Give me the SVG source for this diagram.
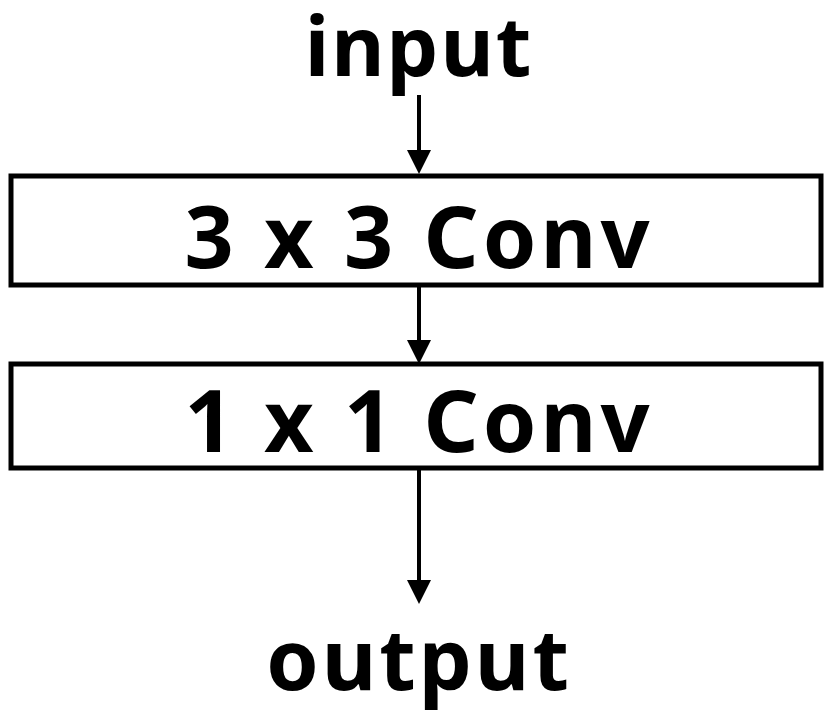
<svg xmlns="http://www.w3.org/2000/svg" width="830" height="719" viewBox="0 0 830 719">
<style>
.t{font-family:"Noto Sans","Noto Sans CJK SC",sans-serif;font-weight:bold;text-anchor:middle;fill:#000}
.b{fill:#fff;stroke:#000;stroke-width:5}
.c{stroke:#000;stroke-width:4;fill:none;marker-end:url(#a)}
</style>
<defs><marker id="a" markerWidth="6" markerHeight="6" refX="5" refY="3" orient="auto" markerUnits="strokeWidth"><path d="M0,0 L6,3 L0,6 z" fill="#000"/></marker></defs>
<rect width="830" height="719" fill="#fff"/>
<g id="connectors">
<line class="c" x1="419" y1="95" x2="419" y2="170"/>
<line class="c" x1="419" y1="286" x2="419" y2="360"/>
<line class="c" x1="419" y1="469" x2="419" y2="600"/>
</g>
<g id="input"><text class="t" x="419" y="76" font-size="82" letter-spacing="2">input</text></g>
<g id="conv3"><rect class="b" x="11" y="176" width="810" height="109"/><text class="t" x="419" y="268" font-size="86" letter-spacing="4">3 x 3 Conv</text></g>
<g id="conv1"><rect class="b" x="11" y="364" width="810" height="104"/><text class="t" x="419" y="452" font-size="86" letter-spacing="4">1 x 1 Conv</text></g>
<g id="output"><text class="t" x="419" y="690" font-size="84" letter-spacing="3">output</text></g>
</svg>
